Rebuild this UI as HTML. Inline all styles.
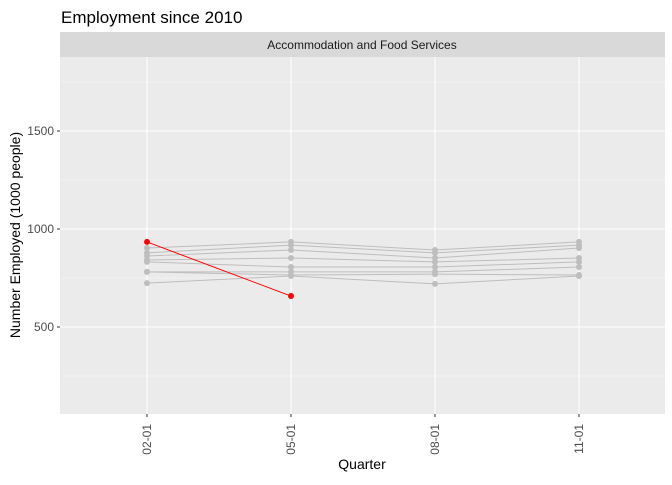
<!DOCTYPE html>
<html><head><meta charset="utf-8"><style>
body{margin:0;background:#fff;font-family:"Liberation Sans",sans-serif;}
</style></head><body>
<svg id="chart" width="672" height="480" xmlns="http://www.w3.org/2000/svg" font-family="Liberation Sans, sans-serif">
<text x="61" y="23" font-size="17" fill="#000">Employment since 2010</text>
<rect x="60" y="32" width="605" height="25" fill="#d9d9d9"/>
<text x="362" y="49" font-size="12" text-anchor="middle" fill="#1a1a1a">Accommodation and Food Services</text>
<rect x="60" y="57" width="605" height="357" fill="#ebebeb"/>
<g id="grid"></g><g id="series"></g><g id="axes"></g>
<text x="362" y="469" font-size="14" text-anchor="middle">Quarter</text>
<text transform="translate(20,235) rotate(-90)" font-size="14" text-anchor="middle">Number Employed (1000 people)</text>
</svg>
<script>
const categories=["02-01","05-01","08-01","11-01"];
const yTicks=[500,1000,1500];
const grayA=[903,934,893,934];
const grayB=[878,918,878,918];
const grayC=[862,893,852,903];
const grayD=[842,852,832,852];
const grayE=[832,806,806,832];
const grayF=[781,781,781,806];
const grayG=[781,765,770,765];
const grayH=[724,760,720,760];
const grays=[grayA,grayB,grayC,grayD,grayE,grayF,grayG,grayH];
const highlight=[934,658];
const NS="http://www.w3.org/2000/svg";
const x=i=>147+i*144;
const y=v=>229-(v-1000)*0.196;
function mk(tag,attrs,parent){const e=document.createElementNS(NS,tag);for(const k in attrs)e.setAttribute(k,attrs[k]);parent.appendChild(e);return e;}
const grid=document.getElementById('grid'),ser=document.getElementById('series'),ax=document.getElementById('axes');
[250,750,1250,1750].forEach(v=>{const l=mk('line',{x1:60,x2:665,y1:y(v),y2:y(v),stroke:'#f5f5f5','stroke-width':0.6},grid);

});
yTicks.forEach(v=>{const l=mk('line',{x1:60,x2:665,y1:y(v),y2:y(v),stroke:'#fff','stroke-width':1.1},grid);


const t=mk('text',{x:54,y:y(v)+4,'font-size':12,'text-anchor':'end',fill:'#4d4d4d'},ax);t.textContent=v;


const tk=mk('line',{x1:57,x2:60,y1:y(v),y2:y(v),stroke:'#333'},ax);

});
categories.forEach((c,i)=>{const l=mk('line',{x1:x(i),x2:x(i),y1:57,y2:414,stroke:'#fff','stroke-width':1.1},grid);


const tk=mk('line',{x1:x(i),x2:x(i),y1:414,y2:417,stroke:'#333'},ax);


const t=mk('text',{transform:`translate(${x(i)+4},424) rotate(-90)`,'font-size':12,'text-anchor':'end',fill:'#4d4d4d'},ax);t.textContent=c;

});
function drawSeries(vals,color,name){const g=mk('g',{},ser);


mk('polyline',{points:vals.map((v,i)=>x(i)+','+y(v)).join(' '),fill:'none',stroke:color,'stroke-width':1},g);
vals.forEach((v,i)=>{const p=mk('circle',{cx:x(i),cy:y(v),r:3,fill:color},g);

});}
grays.forEach((s,k)=>drawSeries(s,'#bebebe','gray-series-'+(k+1)));
drawSeries(highlight,'#ff0000','highlight-series');
</script>
</body></html>
